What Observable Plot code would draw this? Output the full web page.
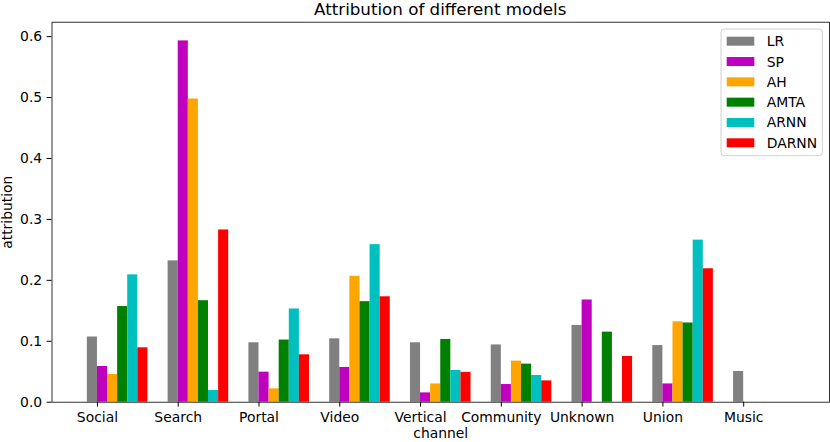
<!DOCTYPE html>
<html><head><meta charset="utf-8">
<script src="https://cdn.jsdelivr.net/npm/d3@7"></script>
<script src="https://cdn.jsdelivr.net/npm/@observablehq/plot@0.6"></script>
<style>body{margin:0;background:#fff} svg{display:block}</style>
</head><body><div id="chart"></div>
<script>
const categories = ["Social","Search","Portal","Video","Vertical","Community","Unknown","Union","Music"];
const series = ["LR","SP","AH","AMTA","ARNN","DARNN"];
const colors = ["#808080","#bf00bf","#ffa500","#008000","#00bfbf","#ff0000"];
const LR    = [0.107, 0.232, 0.0975, 0.104, 0.0975, 0.094, 0.126, 0.093, 0.0504];
const SP    = [0.0586, 0.593, 0.0493, 0.057, 0.0153, 0.029, 0.1677, 0.030, 0];
const AH    = [0.0455, 0.4976, 0.0219, 0.2066, 0.030, 0.0674, 0, 0.132, 0];
const AMTA  = [0.157, 0.1666, 0.102, 0.165, 0.103, 0.0625, 0.115, 0.130, 0];
const ARNN  = [0.209, 0.0192, 0.153, 0.2586, 0.052, 0.0438, 0, 0.266, 0];
const DARNN = [0.0893, 0.2827, 0.0778, 0.173, 0.049, 0.035, 0.075, 0.219, 0];
const yTicks = [0, 0.1, 0.2, 0.3, 0.4, 0.5, 0.6];
const title = "Attribution of different models";

const values = [LR, SP, AH, AMTA, ARNN, DARNN];
const barWidth = 0.125;
const rows = [];
series.forEach((s, k) => {
  categories.forEach((c, i) => {
    rows.push({series: s, category: c, value: values[k][i],
      x1: i + (k - 1) * barWidth, x2: i + k * barWidth});
  });
});

const W = 830, H = 442, mL = 51.5, mR = 1, mT = 21.7, mB = 40.3;
const chart = Plot.plot({
  width: W, height: H,
  marginLeft: mL, marginRight: mR, marginTop: mT, marginBottom: mB,
  style: {fontFamily: "'DejaVu Sans', sans-serif", fontSize: "13.9px", color: "black", background: "white", overflow: "visible"},
  x: {domain: [-0.5625, 9.0625]},
  y: {domain: [0, 0.6237]},
  color: {domain: series, range: colors},
  marks: [
    Plot.rect(rows, {x1: "x1", x2: "x2", y1: 0, y2: "value", fill: "series", inset: 0}),
    Plot.frame({stroke: "black", strokeWidth: 0.8}),
    Plot.axisX({ticks: d3.range(categories.length), tickFormat: i => categories[i], tickSize: 4.9, tickPadding: 4.9,
      label: "channel", labelAnchor: "center", labelArrow: "none", labelOffset: 36}),
    Plot.axisY({ticks: yTicks, tickFormat: d3.format(".1f"), tickSize: 4.9, tickPadding: 4.9,
      label: "attribution", labelAnchor: "center", labelArrow: "none", labelOffset: 50})
  ]
});
document.getElementById("chart").appendChild(chart);

const svg = d3.select(chart);
svg.append("text").attr("x", (mL + W - mR) / 2).attr("y", 15)
  .attr("text-anchor", "middle").attr("font-size", "16.7px").attr("fill", "black").text(title);

const lg = svg.append("g").attr("text-anchor", "start");
lg.append("rect").attr("x", 721).attr("y", 29).attr("width", 101.3).attr("height", 126.7)
  .attr("rx", 3).attr("fill", "white").attr("fill-opacity", 0.8).attr("stroke", "#d0d0d0");
series.forEach((s, k) => {
  const cy = 41.2 + k * 20.32;
  lg.append("rect").attr("x", 726.7).attr("y", cy - 4.5).attr("width", 27.6).attr("height", 9).attr("fill", colors[k]);
  lg.append("text").attr("x", 766.7).attr("y", cy).attr("dy", "0.36em").attr("font-size", "13.9px").attr("fill", "black").text(s);
});
</script></body></html>
